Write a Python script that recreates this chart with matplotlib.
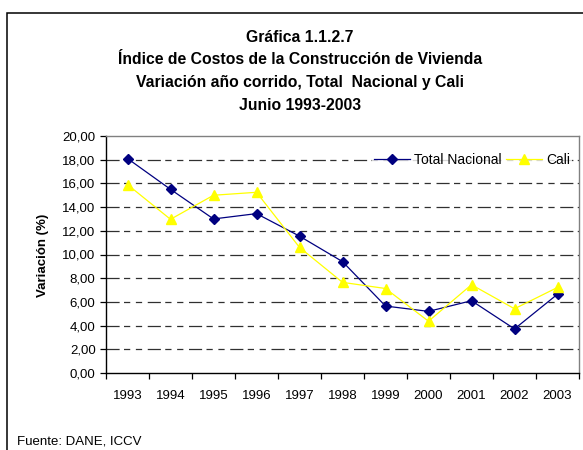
import matplotlib
matplotlib.use('Agg')
import matplotlib.pyplot as plt
from matplotlib.patches import Rectangle
from matplotlib.ticker import FixedLocator

plt.rcParams['font.family'] = ['Liberation Sans', 'DejaVu Sans']

# datos
anios = ['1993', '1994', '1995', '1996', '1997', '1998', '1999', '2000', '2001', '2002', '2003']
total_nacional = [18.10, 15.50, 13.00, 13.45, 11.55, 9.40, 5.65, 5.20, 6.10, 3.72, 6.65]
cali = [15.90, 12.97, 15.00, 15.25, 10.60, 7.65, 7.13, 4.37, 7.45, 5.42, 7.22]
yticks = [0, 2, 4, 6, 8, 10, 12, 14, 16, 18, 20]

fig = plt.figure(figsize=(5.83, 4.5), dpi=100)
ax = fig.add_axes([106/583, 1-373/450, (579-106)/583, (373-136)/450])

x = list(range(len(anios)))

# lineas de la rejilla (discontinuas tipo Excel)
for y in yticks[1:-1]:
    ax.axhline(y, color='#303030', lw=0.9, dashes=(10.5, 3.5, 5, 4.5, 5, 4.5), zorder=1)

ax.plot(x, total_nacional, color='#000080', lw=0.9, marker='D', ms=5,
        label='Total Nacional', zorder=3)
ax.plot(x, cali, color='#FFFF00', lw=0.9, marker='^', ms=7.5,
        label='Cali', zorder=3)

ax.set_xlim(-0.5, len(anios) - 0.5)
ax.set_ylim(0, 20)

ax.xaxis.set_major_locator(FixedLocator([i - 0.5 for i in range(len(anios) + 1)]))
ax.xaxis.set_minor_locator(FixedLocator(x))
ax.set_xticklabels([], minor=False)
ax.set_xticklabels(anios, minor=True)
ax.tick_params(axis='x', which='major', direction='out', length=4, width=0.9)
ax.tick_params(axis='x', which='minor', length=0, pad=12, labelsize=9.5)

ax.set_yticks(yticks)
ax.set_yticklabels([('%.2f' % v).replace('.', ',') for v in yticks])
ax.tick_params(axis='y', direction='out', length=4, width=0.9, labelsize=9.5, pad=3.5)

ax.spines['left'].set_color('black')
ax.spines['bottom'].set_color('black')
ax.spines['left'].set_linewidth(1.0)
ax.spines['bottom'].set_linewidth(1.0)
ax.spines['top'].set_color('#808080')
ax.spines['right'].set_color('#808080')
ax.spines['top'].set_linewidth(1.0)
ax.spines['right'].set_linewidth(1.0)

leg = ax.legend(loc='center right', bbox_to_anchor=(0.985, (373-160)/237), ncol=2,
                frameon=True, fontsize=10, handlelength=2.6, handletextpad=0.25,
                columnspacing=0.35, borderpad=0.15, borderaxespad=0)
leg.get_frame().set_edgecolor('none')
leg.get_frame().set_facecolor('white')
leg.get_frame().set_boxstyle('square', pad=0)
leg.set_zorder(4)

# titulo
titulo = ['Gráfica 1.1.2.7',
          'Índice de Costos de la Construcción de Vivienda',
          'Variación año corrido, Total  Nacional y Cali',
          'Junio 1993-2003']
for i, linea in enumerate(titulo):
    fig.text(300/583, 1 - (37 + 23*i)/450, linea, ha='center', va='center',
             fontsize=11.3, fontweight='bold')

fig.text(43/583, 1 - 255/450, 'Variación (%)', rotation=90, ha='center', va='center',
         fontsize=9.5, fontweight='bold')
fig.text(17/583, 1 - 442/450, 'Fuente: DANE, ICCV', ha='left', va='center', fontsize=9.5)

# marco del grafico
fig.add_artist(Rectangle((7/583, -0.1), 1.2, 1.1 - 13/450, transform=fig.transFigure,
                         fill=False, ec='black', lw=1.1))

fig.savefig('out.png', dpi=100)
